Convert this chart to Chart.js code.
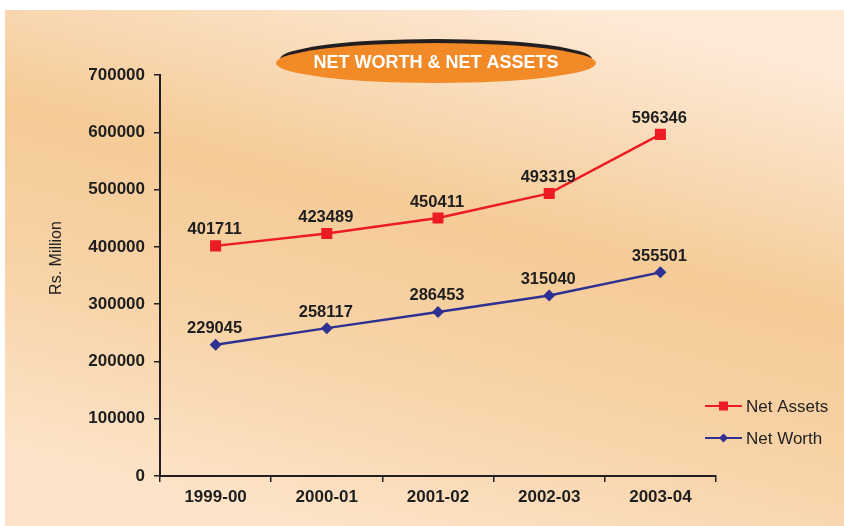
<!DOCTYPE html>
<html>
<head>
<meta charset="utf-8">
<script src="https://cdn.jsdelivr.net/npm/chart.js@4.4.1/dist/chart.umd.min.js"></script>
<style>
  html, body { margin: 0; padding: 0; background: #fff; }
  #wrap { width: 844px; height: 526px; }
</style>
</head>
<body>
<div id="wrap"><canvas id="chart" width="844" height="526"></canvas></div>
<script>
// chart data
const years = ['1999-00', '2000-01', '2001-02', '2002-03', '2003-04'];
const netAssets = [401711, 423489, 450411, 493319, 596346];
const netWorth = [229045, 258117, 286453, 315040, 355501];
const yTicks = [0, 100000, 200000, 300000, 400000, 500000, 600000, 700000];
const chartTitle = 'NET WORTH & NET ASSETS';
const yTitle = 'Rs. Million';

const ink = '#231f20';
const red = '#ed1c24';
const blue = '#2e3192';

// peach background behind everything
const bgPlugin = {
    id: 'bg',
    beforeDraw: function (chart) {
        const ctx = chart.ctx;
        ctx.save();
        ctx.fillStyle = '#fff';
        ctx.fillRect(0, 0, chart.width, chart.height);
        const g = ctx.createLinearGradient(560, 10, 420, 560);
        g.addColorStop(0, '#fde9d5');
        g.addColorStop(0.4, '#f5cb97');
        g.addColorStop(0.7, '#f8d4a9');
        g.addColorStop(1, '#fde4c9');
        ctx.fillStyle = g;
        ctx.fillRect(5, 10, chart.width - 5, chart.height - 10);
        ctx.restore();
    }
};

// orange badge title, y title, legend
const decorPlugin = {
    id: 'decor',
    afterDraw: function (chart) {
        const ctx = chart.ctx;
        ctx.save();
        // badge
        ctx.fillStyle = ink;
        ctx.beginPath();
        ctx.ellipse(436, 59, 156, 20, 0, 0, Math.PI * 2);
        ctx.fill();
        ctx.fillStyle = '#f28a28';
        ctx.beginPath();
        ctx.ellipse(436, 63, 160, 20, 0, 0, Math.PI * 2);
        ctx.fill();
        ctx.fillStyle = '#fff';
        ctx.font = 'bold 18px "Liberation Sans"';
        ctx.textAlign = 'center';
        ctx.textBaseline = 'middle';
        ctx.fillText(chartTitle, 436, 63);

        // y axis title
        ctx.save();
        ctx.translate(57, 258);
        ctx.rotate(-Math.PI / 2);
        ctx.fillStyle = '#222';
        ctx.font = '16px "Liberation Sans"';
        ctx.fillText(yTitle, 0, 0);
        ctx.restore();

        // legend
        const items = [
            { label: 'Net Assets', color: red, style: 'rect', y: 406 },
            { label: 'Net Worth', color: blue, style: 'diamond', y: 438 }
        ];
        items.forEach(function (it) {
            ctx.strokeStyle = it.color;
            ctx.lineWidth = 2;
            ctx.beginPath();
            ctx.moveTo(705, it.y);
            ctx.lineTo(742, it.y);
            ctx.stroke();
            ctx.fillStyle = it.color;
            ctx.beginPath();
            if (it.style === 'rect') {
                ctx.rect(719, it.y - 4.5, 9, 9);
            } else {
                ctx.moveTo(723.5, it.y - 4.5);
                ctx.lineTo(728, it.y);
                ctx.lineTo(723.5, it.y + 4.5);
                ctx.lineTo(719, it.y);
                ctx.closePath();
            }
            ctx.fill();
            ctx.fillStyle = '#222';
            ctx.font = '17px "Liberation Sans"';
            ctx.textAlign = 'left';
            ctx.textBaseline = 'middle';
            ctx.fillText(it.label, 746, it.y + 1);
        });
        ctx.restore();
    }
};

// value labels above each point
const valueLabels = {
    id: 'valueLabels',
    afterDatasetsDraw: function (chart) {
        const ctx = chart.ctx;
        ctx.save();
        ctx.fillStyle = '#1e1e1e';
        ctx.font = 'bold 16.5px "Liberation Sans"';
        ctx.textAlign = 'center';
        ctx.textBaseline = 'middle';
        chart.data.datasets.forEach(function (ds, i) {
            chart.getDatasetMeta(i).data.forEach(function (pt, j) {
                ctx.fillText(String(ds.data[j]), pt.x - 1, pt.y - 16);
            });
        });
        ctx.restore();
    }
};

const tickFont = { family: 'Liberation Sans', size: 17, weight: 'bold' };

new Chart(document.getElementById('chart'), {
    type: 'line',
    data: {
        labels: years,
        datasets: [{
            label: 'Net Assets',
            data: netAssets,
            borderColor: red,
            backgroundColor: red,
            borderWidth: 2.5,
            pointStyle: 'rect',
            pointRadius: 7.8,
            pointHoverRadius: 7.8,
            pointBorderWidth: 0,
            tension: 0
        }, {
            label: 'Net Worth',
            data: netWorth,
            borderColor: blue,
            backgroundColor: blue,
            borderWidth: 2.5,
            pointStyle: 'rectRot',
            pointRadius: 6,
            pointHoverRadius: 6,
            pointBorderWidth: 0,
            tension: 0
        }]
    },
    options: {
        responsive: false,
        animation: false,
        events: [],
        layout: { padding: { top: 75, right: 128, bottom: 0, left: 40 } },
        plugins: {
            legend: { display: false },
            title: { display: false },
            tooltip: { enabled: false }
        },
        scales: {
            x: {
                offset: true,
                grid: { offset: true, drawOnChartArea: false, tickLength: 6, color: ink, lineWidth: 1.5 },
                border: { display: true, color: ink, width: 2 },
                ticks: { font: tickFont, color: '#1e1e1e', padding: 5 },
                afterFit: function (scale) { scale.height = 50; }
            },
            y: {
                min: 0,
                max: 700000,
                afterBuildTicks: function (scale) {
                    scale.ticks = yTicks.map(function (v) { return { value: v }; });
                },
                grid: { drawOnChartArea: false, tickLength: 6, color: ink, lineWidth: 1.5 },
                border: { display: true, color: ink, width: 2 },
                ticks: {
                    font: tickFont,
                    color: '#1e1e1e',
                    padding: 9,
                    callback: function (v) { return String(v); }
                },
                afterFit: function (scale) { scale.width = 120; }
            }
        }
    },
    plugins: [bgPlugin, valueLabels, decorPlugin]
});
</script>
</body>
</html>
